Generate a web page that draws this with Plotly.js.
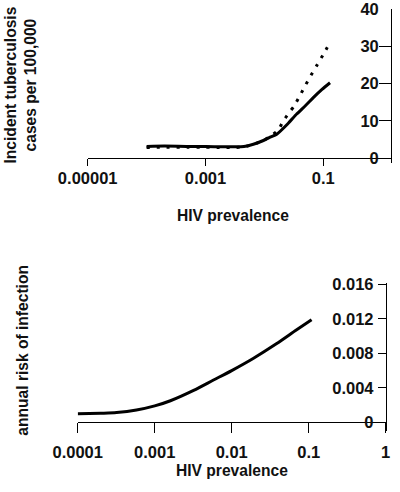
<!DOCTYPE html>
<html>
<head>
<meta charset="utf-8">
<script src="https://cdn.plot.ly/plotly-3.0.1.min.js"></script>
<style>
  html, body { margin: 0; padding: 0; background: #ffffff; }
  #chart { width: 400px; height: 492px; }
</style>
</head>
<body>
<div id="chart"></div>
<script>
// ---- Top panel: incident tuberculosis vs HIV prevalence ----
const hivTopSolid = [0.0001, 0.0002, 0.0005, 0.001, 0.002, 0.003, 0.0045, 0.0065, 0.0096, 0.0125, 0.0162, 0.025, 0.0353, 0.05, 0.0676, 0.095, 0.13];
const tbSolid     = [3.1, 3.2, 3.1, 3.1, 3.0, 3.0, 3.1, 3.7, 4.7, 5.6, 6.4, 9.2, 11.8, 14.1, 16.2, 18.4, 20.2];

const hivTopDotted = [0.0001, 0.0002, 0.0005, 0.001, 0.002, 0.003, 0.0045, 0.0065, 0.0096, 0.0125, 0.0172, 0.0205, 0.0255, 0.0318, 0.0402, 0.0508, 0.0618, 0.0773, 0.0989, 0.13];
const tbDotted      = [2.8, 2.9, 2.9, 2.9, 2.8, 2.8, 3.0, 3.6, 4.7, 5.8, 7.5, 9.7, 11.9, 13.9, 16.8, 19.8, 22.2, 24.8, 27.7, 31.0];

const topXTickVals = [0.00001, 0.001, 0.1];
const topXTickText = ['0.00001', '0.001', '0.1'];
const topYTickVals = [0, 10, 20, 30, 40];
const topYTickText = ['0', '10', '20', '30', '40'];

// ---- Bottom panel: annual risk of infection vs HIV prevalence ----
const hivBottom = [0.0001, 0.0002, 0.00032, 0.00058, 0.001, 0.0016, 0.0032, 0.0058, 0.01, 0.019, 0.038, 0.069, 0.109];
const ariValues = [0.00098, 0.00105, 0.00113, 0.00142, 0.0019, 0.0025, 0.0037, 0.0049, 0.0060, 0.0074, 0.0091, 0.0107, 0.0119];

const bottomXTickVals = [0.0001, 0.001, 0.01, 0.1, 1];
const bottomXTickText = ['0.0001', '0.001', '0.01', '0.1', '1'];
const bottomYTickVals = [0, 0.004, 0.008, 0.012, 0.016];
const bottomYTickText = ['0', '0.004', '0.008', '0.012', '0.016'];

const FONT = 'Liberation Sans, Arial, Helvetica, sans-serif';
const tickFont = {family: FONT, size: 16.5, color: '#111', weight: 'bold'};
const titleFont = {family: FONT, size: 15.6, color: '#111', weight: 'bold'};

const traces = [
  {x: hivTopSolid, y: tbSolid, xaxis: 'x', yaxis: 'y', mode: 'lines',
   line: {color: '#000', width: 3, shape: 'spline', smoothing: 0.6}, hoverinfo: 'skip'},
  {x: hivTopDotted, y: tbDotted, xaxis: 'x', yaxis: 'y', mode: 'lines',
   line: {color: '#000', width: 3, dash: '3px,7px', shape: 'spline', smoothing: 0.6}, hoverinfo: 'skip'},
  {x: hivBottom, y: ariValues, xaxis: 'x2', yaxis: 'y2', mode: 'lines',
   line: {color: '#000', width: 3, shape: 'spline', smoothing: 0.8}, hoverinfo: 'skip'}
];

const px = v => v / 400;
const py = v => 1 - v / 492;

const commonAxis = {
  showgrid: false, zeroline: false, showline: true, linecolor: '#000', linewidth: 1,
  tickcolor: '#000', tickwidth: 1, tickfont: tickFont, tickmode: 'array',
  ticklabeloverflow: 'allow', fixedrange: true
};

const layout = {
  width: 400, height: 492,
  margin: {l: 0, r: 0, t: 0, b: 0},
  paper_bgcolor: '#fff', plot_bgcolor: 'rgba(0,0,0,0)',
  showlegend: false,
  xaxis: Object.assign({}, commonAxis, {
    type: 'log', domain: [px(87.7), px(391)], range: [-5, 0.149],
    anchor: 'free', position: py(158), ticks: 'outside',
    tickvals: topXTickVals, ticktext: topXTickText, ticklen: 7, ticklabelstandoff: -2
  }),
  yaxis: Object.assign({}, commonAxis, {
    domain: [py(163.3), py(9)], range: [-1.42, 40.0001],
    anchor: 'x', side: 'right', ticks: 'inside', ticklabelposition: 'inside',
    tickvals: topYTickVals, ticktext: topYTickText, ticklen: 12.5, ticklabelstandoff: 1.5
  }),
  xaxis2: Object.assign({}, commonAxis, {
    type: 'log', domain: [px(77.7), px(385.7)], range: [-4, 0],
    anchor: 'free', position: py(422.3), ticks: 'outside',
    tickvals: bottomXTickVals, ticktext: bottomXTickText, ticklen: 10, ticklabelstandoff: 5
  }),
  yaxis2: Object.assign({}, commonAxis, {
    domain: [py(430.5), py(282.7)], range: [-0.00095, 0.016186],
    anchor: 'x2', side: 'right', ticks: 'inside', ticklabelposition: 'inside',
    tickvals: bottomYTickVals, ticktext: bottomYTickText, ticklen: 7.5, ticklabelstandoff: 5
  }),
  annotations: [
    {text: 'Incident tuberculosis<br>cases per 100,000', xref: 'paper', yref: 'paper',
     x: px(20.5), y: py(85), xanchor: 'center', yanchor: 'middle', textangle: -90,
     showarrow: false, font: titleFont},
    {text: 'HIV prevalence', xref: 'paper', yref: 'paper',
     x: px(233.3), y: py(215.5), xanchor: 'center', yanchor: 'middle',
     showarrow: false, font: titleFont},
    {text: 'annual risk of infection', xref: 'paper', yref: 'paper',
     x: px(21.7), y: py(350), xanchor: 'center', yanchor: 'middle', textangle: -90,
     showarrow: false, font: titleFont},
    {text: 'HIV prevalence', xref: 'paper', yref: 'paper',
     x: px(232), y: py(470.5), xanchor: 'center', yanchor: 'middle',
     showarrow: false, font: titleFont}
  ]
};

Plotly.newPlot('chart', traces, layout, {displayModeBar: false, staticPlot: true});
</script>
</body>
</html>
